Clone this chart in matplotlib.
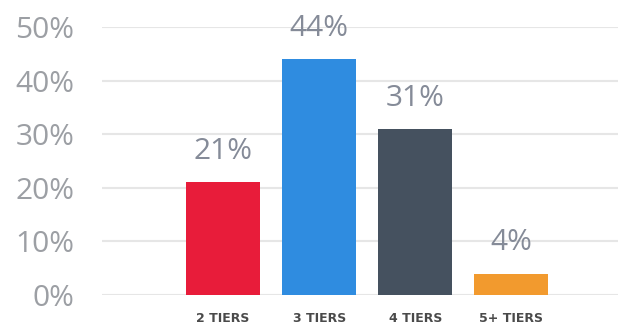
import matplotlib.pyplot as plt

categories = ["2 TIERS", "3 TIERS", "4 TIERS", "5+ TIERS"]
values = [21, 44, 31, 4]
bar_colors = ["#E81C3A", "#2F8CE0", "#45515F", "#F29A2E"]
yticks = [0, 10, 20, 30, 40, 50]

plt.rcParams['font.family'] = ['Open Sans', 'DejaVu Sans']

fig = plt.figure(figsize=(6.18, 3.27), dpi=100)
ax = fig.add_axes([0.165, 0.098, 0.835, 0.819])

x = range(len(categories))
ax.bar(x, values, width=0.77, color=bar_colors, zorder=3)

for xi, v in zip(x, values):
    ax.text(xi, v + 3.0, f"{v}%", ha="center", va="bottom",
            fontsize=21.5, color="#858B98")

ax.set_xlim(-1.26, 4.11)
ax.set_ylim(0, 50)
ax.set_yticks(yticks)
ax.set_yticklabels([f"{t}%" for t in yticks])
ax.set_xticks(list(x))
ax.set_xticklabels(categories, fontsize=9, fontweight="bold", color="#4A4A4A",
                   family="DejaVu Sans")

ax.yaxis.grid(True, color="#E6E6E6", linewidth=1.5, zorder=0)
for s in ax.spines.values():
    s.set_visible(False)
ax.tick_params(axis="y", length=0, labelsize=21.5, labelcolor="#9C9FA4", pad=20)
ax.tick_params(axis="x", length=0, pad=12.5)

fig.savefig("out.png", dpi=100)
